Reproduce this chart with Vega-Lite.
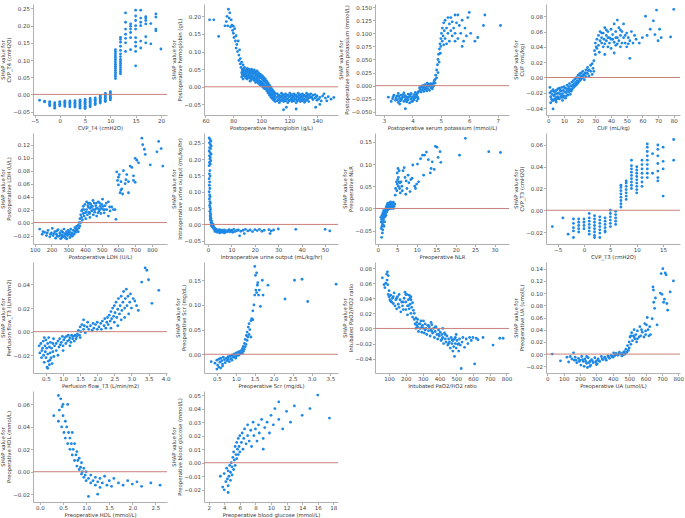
{
"$schema":"https://vega.github.io/schema/vega-lite/v6.json",
"background":"white",
"padding":{"left":0,"top":4,"right":0,"bottom":0},
"config":{"view":{"stroke":null},"font":"DejaVu Sans",
"axis":{"grid":false,"domainColor":"#b0b0b0","tickColor":"#b0b0b0","tickSize":2.5,"labelFontSize":5.5,"labelColor":"#444","labelPadding":1,"labelOverlap":false,"labelFlush":false,"titleFontSize":5.3,"titleFontWeight":"normal","titleColor":"#333","titlePadding":1.5,"titleLineHeight":6},
"circle":{"size":8,"color":"#1E88E5","opacity":1},
"rule":{"color":"#c9807b","strokeWidth":1}},
"columns":4,
"bounds":"flush",
"spacing":{"row":18,"column":37},
"datasets":{
"p1":[{"x":-4,"y":-0.017},{"x":-3,"y":-0.02},{"x":-3,"y":-0.022},{"x":-2,"y":-0.021},{"x":-2,"y":-0.025},{"x":-2,"y":-0.029},{"x":-2,"y":-0.033},{"x":-1,"y":-0.024},{"x":-1,"y":-0.028},{"x":-1,"y":-0.032},{"x":-1,"y":-0.037},{"x":-1,"y":-0.04},{"x":0,"y":-0.021},{"x":0,"y":-0.025},{"x":0,"y":-0.029},{"x":0,"y":-0.033},{"x":1,"y":-0.019},{"x":1,"y":-0.023},{"x":1,"y":-0.027},{"x":1,"y":-0.031},{"x":1,"y":-0.035},{"x":2,"y":-0.019},{"x":2,"y":-0.023},{"x":2,"y":-0.027},{"x":2,"y":-0.031},{"x":2,"y":-0.036},{"x":3,"y":-0.018},{"x":3,"y":-0.022},{"x":3,"y":-0.026},{"x":3,"y":-0.03},{"x":3,"y":-0.034},{"x":3,"y":-0.037},{"x":4,"y":-0.016},{"x":4,"y":-0.02},{"x":4,"y":-0.024},{"x":4,"y":-0.028},{"x":4,"y":-0.032},{"x":4,"y":-0.036},{"x":4,"y":-0.04},{"x":5,"y":-0.015},{"x":5,"y":-0.019},{"x":5,"y":-0.023},{"x":5,"y":-0.027},{"x":5,"y":-0.031},{"x":5,"y":-0.035},{"x":5,"y":-0.039},{"x":5,"y":-0.041},{"x":6,"y":-0.012},{"x":6,"y":-0.016},{"x":6,"y":-0.02},{"x":6,"y":-0.024},{"x":6,"y":-0.028},{"x":6,"y":-0.032},{"x":6,"y":-0.036},{"x":7,"y":-0.01},{"x":7,"y":-0.014},{"x":7,"y":-0.018},{"x":7,"y":-0.022},{"x":7,"y":-0.026},{"x":7,"y":-0.03},{"x":8,"y":-0.004},{"x":8,"y":-0.008},{"x":8,"y":-0.012},{"x":8,"y":-0.016},{"x":8,"y":-0.02},{"x":8,"y":-0.025},{"x":9,"y":0.003},{"x":9,"y":-0.001},{"x":9,"y":-0.005},{"x":9,"y":-0.009},{"x":9,"y":-0.013},{"x":9,"y":-0.017},{"x":9,"y":-0.021},{"x":10,"y":0.008},{"x":10,"y":0.004},{"x":10,"y":0.0},{"x":10,"y":-0.004},{"x":10,"y":-0.008},{"x":10,"y":-0.012},{"x":10,"y":-0.016},{"x":11,"y":0.046},{"x":11,"y":0.052},{"x":11,"y":0.058},{"x":11,"y":0.064},{"x":11,"y":0.07},{"x":11,"y":0.076},{"x":11,"y":0.082},{"x":11,"y":0.088},{"x":11,"y":0.094},{"x":11,"y":0.1},{"x":11,"y":0.106},{"x":11,"y":0.112},{"x":11,"y":0.118},{"x":11,"y":0.124},{"x":11,"y":0.13},{"x":12,"y":0.06},{"x":12,"y":0.066},{"x":12,"y":0.072},{"x":12,"y":0.078},{"x":12,"y":0.084},{"x":12,"y":0.09},{"x":12,"y":0.096},{"x":12,"y":0.102},{"x":12,"y":0.11},{"x":12,"y":0.118},{"x":12,"y":0.128},{"x":12,"y":0.14},{"x":12,"y":0.152},{"x":12,"y":0.16},{"x":12,"y":0.166},{"x":13,"y":0.125},{"x":13,"y":0.15},{"x":13,"y":0.163},{"x":13,"y":0.175},{"x":13,"y":0.19},{"x":13,"y":0.21},{"x":13,"y":0.237},{"x":14,"y":0.13},{"x":14,"y":0.165},{"x":14,"y":0.18},{"x":14,"y":0.19},{"x":14,"y":0.198},{"x":14,"y":0.205},{"x":15,"y":0.083},{"x":15,"y":0.125},{"x":15,"y":0.14},{"x":15,"y":0.152},{"x":15,"y":0.165},{"x":15,"y":0.19},{"x":15,"y":0.2},{"x":15,"y":0.215},{"x":15,"y":0.228},{"x":15,"y":0.245},{"x":16,"y":0.135},{"x":16,"y":0.155},{"x":16,"y":0.2},{"x":16,"y":0.21},{"x":16,"y":0.222},{"x":16,"y":0.245},{"x":17,"y":0.15},{"x":17,"y":0.168},{"x":17,"y":0.205},{"x":17,"y":0.215},{"x":17,"y":0.222},{"x":17,"y":0.226},{"x":18,"y":0.147},{"x":18,"y":0.206},{"x":19,"y":0.185},{"x":19,"y":0.19},{"x":19,"y":0.225},{"x":19,"y":0.234},{"x":20,"y":0.132}],
"p2":[{"x":63,"y":0.19},{"x":66,"y":0.19},{"x":69.5,"y":0.143},{"x":74,"y":0.173},{"x":75,"y":0.185},{"x":75.5,"y":0.2},{"x":76,"y":0.173},{"x":76.5,"y":0.22},{"x":77,"y":0.195},{"x":77.5,"y":0.21},{"x":78,"y":0.17},{"x":78.5,"y":0.19},{"x":79,"y":0.175},{"x":79.5,"y":0.16},{"x":80,"y":0.172},{"x":80,"y":0.152},{"x":80.5,"y":0.14},{"x":81,"y":0.165},{"x":81.5,"y":0.13},{"x":82,"y":0.145},{"x":82,"y":0.11},{"x":82.5,"y":0.12},{"x":83,"y":0.1},{"x":83.5,"y":0.13},{"x":84,"y":0.09},{"x":84,"y":0.075},{"x":84.5,"y":0.105},{"x":85,"y":0.065},{"x":85,"y":0.08},{"x":85.5,"y":0.055},{"x":86,"y":0.07},{"x":86.5,"y":0.05},{"x":87,"y":0.062},{"x":86,"y":0.04},{"x":86,"y":0.028},{"x":87,"y":0.045},{"x":87,"y":0.033},{"x":87,"y":0.022},{"x":88,"y":0.055},{"x":88,"y":0.04},{"x":88,"y":0.03},{"x":89,"y":0.048},{"x":89,"y":0.036},{"x":89,"y":0.025},{"x":90,"y":0.052},{"x":90,"y":0.042},{"x":90,"y":0.032},{"x":90,"y":0.022},{"x":91,"y":0.05},{"x":91,"y":0.038},{"x":91,"y":0.028},{"x":92,"y":0.046},{"x":92,"y":0.034},{"x":92,"y":0.024},{"x":92,"y":0.016},{"x":93,"y":0.05},{"x":93,"y":0.04},{"x":93,"y":0.03},{"x":93,"y":0.02},{"x":94,"y":0.044},{"x":94,"y":0.035},{"x":94,"y":0.025},{"x":95,"y":0.048},{"x":95,"y":0.038},{"x":95,"y":0.028},{"x":95,"y":0.018},{"x":96,"y":0.042},{"x":96,"y":0.032},{"x":96,"y":0.022},{"x":96,"y":0.012},{"x":97,"y":0.045},{"x":97,"y":0.035},{"x":97,"y":0.025},{"x":97,"y":0.015},{"x":98,"y":0.04},{"x":98,"y":0.03},{"x":98,"y":0.02},{"x":98,"y":0.01},{"x":99,"y":0.036},{"x":99,"y":0.026},{"x":99,"y":0.016},{"x":99,"y":0.006},{"x":100,"y":0.034},{"x":100,"y":0.024},{"x":100,"y":0.014},{"x":100,"y":0.004},{"x":101,"y":0.03},{"x":101,"y":0.02},{"x":101,"y":0.01},{"x":101,"y":0.0},{"x":102,"y":0.026},{"x":102,"y":0.016},{"x":102,"y":0.006},{"x":102,"y":-0.004},{"x":103,"y":0.022},{"x":103,"y":0.012},{"x":103,"y":0.002},{"x":103,"y":-0.006},{"x":104,"y":0.015},{"x":104,"y":0.006},{"x":104,"y":-0.004},{"x":104,"y":-0.012},{"x":105,"y":0.01},{"x":105,"y":0.0},{"x":105,"y":-0.01},{"x":105,"y":-0.018},{"x":106,"y":0.004},{"x":106,"y":-0.006},{"x":106,"y":-0.016},{"x":106,"y":-0.024},{"x":107,"y":-0.002},{"x":107,"y":-0.012},{"x":107,"y":-0.022},{"x":107,"y":-0.03},{"x":108,"y":-0.008},{"x":108,"y":-0.018},{"x":108,"y":-0.026},{"x":108,"y":-0.034},{"x":109,"y":-0.014},{"x":109,"y":-0.022},{"x":109,"y":-0.03},{"x":109,"y":-0.038},{"x":110,"y":-0.018},{"x":110,"y":-0.026},{"x":110,"y":-0.034},{"x":110,"y":-0.042},{"x":111.5,"y":-0.02},{"x":111.5,"y":-0.03},{"x":111.5,"y":-0.04},{"x":113,"y":-0.024},{"x":113,"y":-0.034},{"x":113,"y":-0.045},{"x":114.5,"y":-0.018},{"x":114.5,"y":-0.028},{"x":114.5,"y":-0.038},{"x":116,"y":-0.022},{"x":116,"y":-0.032},{"x":116,"y":-0.042},{"x":117.5,"y":-0.02},{"x":117.5,"y":-0.03},{"x":117.5,"y":-0.04},{"x":119,"y":-0.024},{"x":119,"y":-0.034},{"x":119,"y":-0.045},{"x":120.5,"y":-0.018},{"x":120.5,"y":-0.028},{"x":120.5,"y":-0.038},{"x":122,"y":-0.022},{"x":122,"y":-0.032},{"x":122,"y":-0.042},{"x":123.5,"y":-0.02},{"x":123.5,"y":-0.03},{"x":123.5,"y":-0.04},{"x":125,"y":-0.024},{"x":125,"y":-0.034},{"x":125,"y":-0.045},{"x":126.5,"y":-0.018},{"x":126.5,"y":-0.028},{"x":126.5,"y":-0.038},{"x":128,"y":-0.022},{"x":128,"y":-0.032},{"x":128,"y":-0.042},{"x":129.5,"y":-0.02},{"x":129.5,"y":-0.03},{"x":129.5,"y":-0.04},{"x":131,"y":-0.024},{"x":131,"y":-0.034},{"x":131,"y":-0.044},{"x":132.5,"y":-0.018},{"x":132.5,"y":-0.028},{"x":132.5,"y":-0.038},{"x":134,"y":-0.022},{"x":134,"y":-0.032},{"x":134,"y":-0.042},{"x":135.5,"y":-0.02},{"x":135.5,"y":-0.03},{"x":137,"y":-0.024},{"x":137,"y":-0.036},{"x":138.5,"y":-0.022},{"x":138.5,"y":-0.032},{"x":140,"y":-0.026},{"x":140,"y":-0.038},{"x":142,"y":-0.03},{"x":142,"y":-0.05},{"x":144,"y":-0.026},{"x":145,"y":-0.02},{"x":146,"y":-0.032},{"x":147,"y":-0.04},{"x":148,"y":-0.028},{"x":150,"y":-0.035},{"x":152,"y":-0.03},{"x":116,"y":-0.065},{"x":118,"y":-0.058},{"x":125,"y":-0.063},{"x":139,"y":-0.058},{"x":86.5,"y":0.035},{"x":86.5,"y":0.045},{"x":87.5,"y":0.038},{"x":87.5,"y":0.05},{"x":88.5,"y":0.034},{"x":88.5,"y":0.046},{"x":89.5,"y":0.03},{"x":89.5,"y":0.042},{"x":90.5,"y":0.027},{"x":90.5,"y":0.047},{"x":91.5,"y":0.033},{"x":91.5,"y":0.043},{"x":92.5,"y":0.029},{"x":92.5,"y":0.039},{"x":93.5,"y":0.025},{"x":93.5,"y":0.045},{"x":94.5,"y":0.022},{"x":94.5,"y":0.04},{"x":95.5,"y":0.023},{"x":95.5,"y":0.043},{"x":96.5,"y":0.017},{"x":96.5,"y":0.037},{"x":97.5,"y":0.02},{"x":97.5,"y":0.03},{"x":98.5,"y":0.015},{"x":98.5,"y":0.035},{"x":99.5,"y":0.011},{"x":99.5,"y":0.031},{"x":100.5,"y":0.009},{"x":100.5,"y":0.027},{"x":101.5,"y":0.005},{"x":101.5,"y":0.024},{"x":102.5,"y":0.001},{"x":102.5,"y":0.02},{"x":103.5,"y":-0.004},{"x":103.5,"y":0.016},{"x":104.5,"y":-0.008},{"x":104.5,"y":0.008},{"x":105.5,"y":-0.014},{"x":105.5,"y":0.004},{"x":106.5,"y":-0.02},{"x":106.5,"y":-0.002},{"x":107.5,"y":-0.026},{"x":107.5,"y":-0.008},{"x":108.5,"y":-0.03},{"x":108.5,"y":-0.014},{"x":109.5,"y":-0.034},{"x":109.5,"y":-0.02},{"x":112.25,"y":-0.026},{"x":112.25,"y":-0.037},{"x":113.75,"y":-0.029},{"x":113.75,"y":-0.04},{"x":115.25,"y":-0.024},{"x":115.25,"y":-0.034},{"x":116.75,"y":-0.027},{"x":116.75,"y":-0.038},{"x":118.25,"y":-0.025},{"x":118.25,"y":-0.035},{"x":119.75,"y":-0.028},{"x":119.75,"y":-0.04},{"x":121.25,"y":-0.024},{"x":121.25,"y":-0.036},{"x":122.75,"y":-0.027},{"x":122.75,"y":-0.037},{"x":124.25,"y":-0.025},{"x":124.25,"y":-0.035},{"x":125.75,"y":-0.029},{"x":125.75,"y":-0.04},{"x":127.25,"y":-0.024},{"x":127.25,"y":-0.034},{"x":128.75,"y":-0.027},{"x":128.75,"y":-0.037},{"x":130.25,"y":-0.025},{"x":130.25,"y":-0.036},{"x":131.75,"y":-0.028},{"x":131.75,"y":-0.039},{"x":133.25,"y":-0.024},{"x":133.25,"y":-0.034},{"x":134.75,"y":-0.027},{"x":136.25,"y":-0.03},{"x":139,"y":-0.03},{"x":141,"y":-0.035},{"x":143,"y":-0.04}],
"p3":[{"x":3.15,"y":-0.022},{"x":3.25,"y":-0.03},{"x":3.3,"y":-0.025},{"x":3.35,"y":-0.018},{"x":3.4,"y":-0.028},{"x":3.45,"y":-0.02},{"x":3.5,"y":-0.032},{"x":3.5,"y":-0.015},{"x":3.55,"y":-0.024},{"x":3.55,"y":-0.035},{"x":3.6,"y":-0.028},{"x":3.6,"y":-0.018},{"x":3.65,"y":-0.022},{"x":3.7,"y":-0.03},{"x":3.7,"y":-0.014},{"x":3.75,"y":-0.026},{"x":3.75,"y":-0.019},{"x":3.75,"y":-0.044},{"x":3.8,"y":-0.031},{"x":3.8,"y":-0.022},{"x":3.85,"y":-0.016},{"x":3.85,"y":-0.027},{"x":3.9,"y":-0.02},{"x":3.9,"y":-0.033},{"x":3.95,"y":-0.025},{"x":3.95,"y":-0.015},{"x":4.0,"y":-0.03},{"x":4.0,"y":-0.021},{"x":4.05,"y":-0.017},{"x":4.05,"y":-0.027},{"x":4.1,"y":-0.023},{"x":4.1,"y":-0.013},{"x":4.15,"y":-0.029},{"x":4.15,"y":-0.019},{"x":4.2,"y":-0.025},{"x":4.2,"y":-0.012},{"x":4.25,"y":-0.01},{"x":4.25,"y":-0.004},{"x":4.3,"y":-0.012},{"x":4.3,"y":-0.002},{"x":4.35,"y":-0.008},{"x":4.35,"y":0.0},{"x":4.4,"y":-0.011},{"x":4.4,"y":-0.003},{"x":4.45,"y":-0.007},{"x":4.45,"y":0.002},{"x":4.5,"y":-0.01},{"x":4.5,"y":-0.002},{"x":4.55,"y":-0.006},{"x":4.55,"y":0.003},{"x":4.6,"y":-0.009},{"x":4.6,"y":0.0},{"x":4.65,"y":-0.004},{"x":4.65,"y":0.004},{"x":4.7,"y":-0.006},{"x":4.7,"y":0.003},{"x":4.75,"y":0.0},{"x":4.75,"y":0.006},{"x":4.8,"y":0.005},{"x":4.8,"y":0.012},{"x":4.82,"y":0.02},{"x":4.85,"y":0.015},{"x":4.85,"y":0.03},{"x":4.88,"y":0.04},{"x":4.9,"y":0.025},{"x":4.9,"y":0.05},{"x":4.92,"y":0.06},{"x":4.94,"y":0.045},{"x":4.95,"y":0.07},{"x":4.97,"y":0.08},{"x":4.98,"y":0.062},{"x":5.0,"y":0.09},{"x":5.0,"y":0.075},{"x":5.02,"y":0.1},{"x":5.05,"y":0.085},{"x":5.05,"y":0.11},{"x":5.08,"y":0.095},{"x":5.1,"y":0.12},{"x":5.1,"y":0.078},{"x":5.12,"y":0.105},{"x":5.15,"y":0.09},{"x":5.15,"y":0.125},{"x":5.2,"y":0.11},{"x":5.2,"y":0.08},{"x":5.25,"y":0.1},{"x":5.25,"y":0.13},{"x":5.3,"y":0.085},{"x":5.3,"y":0.118},{"x":5.35,"y":0.105},{"x":5.35,"y":0.13},{"x":5.4,"y":0.095},{"x":5.4,"y":0.122},{"x":5.45,"y":0.11},{"x":5.5,"y":0.135},{"x":5.5,"y":0.1},{"x":5.5,"y":0.085},{"x":5.55,"y":0.12},{"x":5.6,"y":0.135},{"x":5.6,"y":0.09},{"x":5.65,"y":0.115},{"x":5.7,"y":0.1},{"x":5.75,"y":0.125},{"x":5.75,"y":0.075},{"x":5.8,"y":0.085},{"x":5.85,"y":0.11},{"x":5.9,"y":0.095},{"x":5.95,"y":0.13},{"x":6.0,"y":0.14},{"x":6.05,"y":0.1},{"x":6.2,"y":0.085},{"x":6.3,"y":0.092},{"x":6.5,"y":0.115},{"x":6.55,"y":0.135},{"x":7.1,"y":0.115},{"x":3.32,"y":-0.021},{"x":3.42,"y":-0.024},{"x":3.52,"y":-0.02},{"x":3.62,"y":-0.025},{"x":3.72,"y":-0.021},{"x":3.82,"y":-0.026},{"x":3.92,"y":-0.017},{"x":4.02,"y":-0.024},{"x":4.12,"y":-0.018},{"x":4.18,"y":-0.022},{"x":3.47,"y":-0.027},{"x":3.57,"y":-0.029},{"x":3.67,"y":-0.017},{"x":3.77,"y":-0.028},{"x":3.87,"y":-0.022},{"x":3.97,"y":-0.03},{"x":4.07,"y":-0.022},{"x":4.17,"y":-0.015},{"x":4.27,"y":-0.006},{"x":4.37,"y":-0.004},{"x":4.47,"y":-0.005},{"x":4.57,"y":-0.001},{"x":4.67,"y":0.0},{"x":4.72,"y":-0.002},{"x":4.42,"y":0.001},{"x":4.52,"y":0.005},{"x":4.62,"y":0.003},{"x":4.77,"y":0.01}],
"p4":[{"x":1,"y":-0.013},{"x":1,"y":-0.02},{"x":1.5,"y":-0.025},{"x":1.5,"y":-0.033},{"x":2,"y":-0.018},{"x":2,"y":-0.028},{"x":2.5,"y":-0.022},{"x":3,"y":-0.016},{"x":3,"y":-0.03},{"x":3,"y":-0.041},{"x":3.5,"y":-0.024},{"x":4,"y":-0.019},{"x":4,"y":-0.028},{"x":4.5,"y":-0.022},{"x":5,"y":-0.017},{"x":5,"y":-0.026},{"x":5,"y":-0.032},{"x":5.5,"y":-0.021},{"x":6,"y":-0.015},{"x":6,"y":-0.025},{"x":6.5,"y":-0.02},{"x":7,"y":-0.014},{"x":7,"y":-0.028},{"x":7.5,"y":-0.022},{"x":8,"y":-0.018},{"x":8,"y":-0.026},{"x":8.5,"y":-0.013},{"x":9,"y":-0.021},{"x":9,"y":-0.03},{"x":9.5,"y":-0.017},{"x":10,"y":-0.012},{"x":10,"y":-0.024},{"x":10.5,"y":-0.019},{"x":11,"y":-0.014},{"x":11,"y":-0.027},{"x":11.5,"y":-0.02},{"x":12,"y":-0.01},{"x":12,"y":-0.017},{"x":12.5,"y":-0.023},{"x":13,"y":-0.012},{"x":13,"y":-0.019},{"x":13.5,"y":-0.008},{"x":14,"y":-0.015},{"x":14,"y":-0.022},{"x":14.5,"y":-0.011},{"x":15,"y":-0.006},{"x":15,"y":-0.016},{"x":15.5,"y":-0.01},{"x":16,"y":-0.004},{"x":16,"y":-0.013},{"x":16.5,"y":-0.008},{"x":17,"y":-0.002},{"x":17,"y":-0.011},{"x":17.5,"y":-0.006},{"x":18,"y":0.0},{"x":18,"y":-0.009},{"x":18.5,"y":-0.004},{"x":19,"y":0.003},{"x":19,"y":-0.007},{"x":19.5,"y":-0.001},{"x":20,"y":0.005},{"x":20,"y":-0.004},{"x":20.5,"y":0.002},{"x":21,"y":-0.002},{"x":21,"y":0.006},{"x":22,"y":0.0},{"x":22,"y":0.008},{"x":23,"y":0.003},{"x":23,"y":-0.003},{"x":24,"y":0.01},{"x":24,"y":0.001},{"x":25,"y":0.005},{"x":25,"y":0.013},{"x":26,"y":0.002},{"x":26,"y":0.01},{"x":27,"y":0.008},{"x":27,"y":0.016},{"x":28,"y":0.004},{"x":28,"y":0.018},{"x":28.5,"y":0.012},{"x":29,"y":0.022},{"x":29,"y":0.008},{"x":29.5,"y":0.035},{"x":30,"y":0.045},{"x":30,"y":0.03},{"x":30.5,"y":0.04},{"x":31,"y":0.05},{"x":31,"y":0.038},{"x":32,"y":0.055},{"x":32,"y":0.042},{"x":32.5,"y":0.033},{"x":33,"y":0.048},{"x":33,"y":0.06},{"x":34,"y":0.045},{"x":34,"y":0.052},{"x":35,"y":0.04},{"x":35,"y":0.058},{"x":35.5,"y":0.05},{"x":36,"y":0.065},{"x":36,"y":0.044},{"x":36,"y":0.03},{"x":37,"y":0.055},{"x":37,"y":0.048},{"x":38,"y":0.04},{"x":38,"y":0.06},{"x":39,"y":0.052},{"x":39,"y":0.045},{"x":40,"y":0.063},{"x":40,"y":0.038},{"x":41,"y":0.05},{"x":41,"y":0.056},{"x":42,"y":0.046},{"x":42,"y":0.07},{"x":42,"y":0.032},{"x":43,"y":0.06},{"x":43,"y":0.042},{"x":44,"y":0.075},{"x":44,"y":0.052},{"x":45,"y":0.048},{"x":45,"y":0.065},{"x":46,"y":0.055},{"x":46,"y":0.04},{"x":47,"y":0.06},{"x":47,"y":0.045},{"x":48,"y":0.052},{"x":48,"y":0.07},{"x":49,"y":0.045},{"x":50,"y":0.058},{"x":50,"y":0.04},{"x":51,"y":0.052},{"x":52,"y":0.025},{"x":52,"y":0.048},{"x":53,"y":0.06},{"x":54,"y":0.045},{"x":55,"y":0.055},{"x":56,"y":0.05},{"x":58,"y":0.045},{"x":60,"y":0.052},{"x":62,"y":0.08},{"x":63,"y":0.055},{"x":65,"y":0.063},{"x":67,"y":0.074},{"x":68,"y":0.056},{"x":69,"y":0.088},{"x":70,"y":0.048},{"x":71,"y":0.063},{"x":72,"y":0.052},{"x":78,"y":0.053},{"x":80,"y":0.089},{"x":2.5,"y":-0.03},{"x":3.5,"y":-0.018},{"x":4.5,"y":-0.03},{"x":5.5,"y":-0.028},{"x":6.5,"y":-0.026},{"x":7.5,"y":-0.016},{"x":8.5,"y":-0.024},{"x":9.5,"y":-0.026},{"x":10.5,"y":-0.014},{"x":11.5,"y":-0.024},{"x":12.5,"y":-0.015},{"x":13.5,"y":-0.016},{"x":14.5,"y":-0.018},{"x":15.5,"y":-0.014},{"x":16.5,"y":-0.012},{"x":17.5,"y":-0.01},{"x":18.5,"y":-0.008},{"x":19.5,"y":-0.005},{"x":20.5,"y":-0.003},{"x":21.5,"y":0.002},{"x":22.5,"y":0.004},{"x":23.5,"y":0.006},{"x":24.5,"y":0.006},{"x":25.5,"y":0.009},{"x":34,"y":0.058},{"x":37,"y":0.062},{"x":40,"y":0.05},{"x":43,"y":0.052},{"x":46,"y":0.062},{"x":49,"y":0.055},{"x":51,"y":0.044},{"x":38,"y":0.052},{"x":44,"y":0.044}],
"p5":[{"x":130,"y":-0.01},{"x":145,"y":-0.018},{"x":160,"y":-0.015},{"x":170,"y":-0.02},{"x":180,"y":-0.012},{"x":190,"y":-0.022},{"x":200,"y":-0.016},{"x":205,"y":-0.009},{"x":210,"y":-0.02},{"x":220,"y":-0.014},{"x":225,"y":-0.024},{"x":230,"y":-0.018},{"x":240,"y":-0.011},{"x":245,"y":-0.021},{"x":250,"y":-0.016},{"x":255,"y":-0.025},{"x":260,"y":-0.013},{"x":265,"y":-0.019},{"x":270,"y":-0.022},{"x":275,"y":-0.01},{"x":280,"y":-0.017},{"x":285,"y":-0.024},{"x":290,"y":-0.014},{"x":295,"y":-0.02},{"x":300,"y":-0.012},{"x":305,"y":-0.018},{"x":310,"y":-0.023},{"x":315,"y":-0.01},{"x":320,"y":-0.016},{"x":325,"y":-0.021},{"x":330,"y":-0.012},{"x":335,"y":-0.018},{"x":340,"y":-0.008},{"x":345,"y":-0.015},{"x":350,"y":-0.006},{"x":350,"y":-0.012},{"x":355,"y":-0.01},{"x":360,"y":-0.004},{"x":360,"y":-0.014},{"x":365,"y":-0.008},{"x":365,"y":0.0},{"x":370,"y":-0.005},{"x":370,"y":0.006},{"x":375,"y":0.0},{"x":375,"y":0.012},{"x":380,"y":0.008},{"x":380,"y":0.018},{"x":385,"y":0.004},{"x":385,"y":0.02},{"x":390,"y":0.014},{"x":390,"y":0.025},{"x":395,"y":0.01},{"x":395,"y":0.02},{"x":400,"y":0.015},{"x":400,"y":0.028},{"x":405,"y":0.006},{"x":410,"y":0.02},{"x":410,"y":0.032},{"x":415,"y":0.012},{"x":420,"y":0.024},{"x":420,"y":0.03},{"x":425,"y":0.016},{"x":430,"y":0.022},{"x":430,"y":0.008},{"x":435,"y":0.028},{"x":440,"y":0.018},{"x":445,"y":0.025},{"x":450,"y":0.012},{"x":455,"y":0.03},{"x":460,"y":0.02},{"x":465,"y":0.026},{"x":470,"y":0.01},{"x":475,"y":0.022},{"x":480,"y":0.032},{"x":485,"y":0.018},{"x":490,"y":0.025},{"x":495,"y":0.014},{"x":500,"y":0.028},{"x":505,"y":0.036},{"x":510,"y":0.02},{"x":515,"y":0.015},{"x":520,"y":0.026},{"x":530,"y":0.02},{"x":540,"y":0.032},{"x":540,"y":0.01},{"x":550,"y":0.018},{"x":560,"y":0.024},{"x":570,"y":0.02},{"x":580,"y":0.02},{"x":585,"y":0.005},{"x":590,"y":0.078},{"x":595,"y":0.065},{"x":600,"y":0.07},{"x":600,"y":0.058},{"x":605,"y":0.074},{"x":610,"y":0.046},{"x":615,"y":0.05},{"x":615,"y":0.063},{"x":620,"y":0.052},{"x":625,"y":0.044},{"x":630,"y":0.08},{"x":640,"y":0.06},{"x":645,"y":0.066},{"x":650,"y":0.074},{"x":660,"y":0.063},{"x":660,"y":0.046},{"x":670,"y":0.087},{"x":680,"y":0.085},{"x":690,"y":0.072},{"x":690,"y":0.065},{"x":700,"y":0.099},{"x":700,"y":0.062},{"x":710,"y":0.096},{"x":720,"y":0.092},{"x":740,"y":0.13},{"x":745,"y":0.12},{"x":755,"y":0.113},{"x":760,"y":0.105},{"x":790,"y":0.089},{"x":830,"y":0.109},{"x":840,"y":0.125},{"x":855,"y":0.114},{"x":865,"y":0.087},{"x":150,"y":-0.014},{"x":175,"y":-0.016},{"x":195,"y":-0.018},{"x":215,"y":-0.017},{"x":235,"y":-0.021},{"x":255,"y":-0.019},{"x":268,"y":-0.015},{"x":278,"y":-0.021},{"x":288,"y":-0.018},{"x":298,"y":-0.016},{"x":308,"y":-0.014},{"x":318,"y":-0.019},{"x":328,"y":-0.017},{"x":338,"y":-0.013},{"x":348,"y":-0.01},{"x":292,"y":-0.025},{"x":262,"y":-0.023},{"x":232,"y":-0.013},{"x":408,"y":0.016},{"x":418,"y":0.026},{"x":428,"y":0.014},{"x":438,"y":0.024},{"x":448,"y":0.02},{"x":458,"y":0.016},{"x":468,"y":0.022},{"x":478,"y":0.015},{"x":488,"y":0.02},{"x":498,"y":0.022},{"x":508,"y":0.025},{"x":518,"y":0.02},{"x":528,"y":0.03},{"x":548,"y":0.024},{"x":428,"y":0.03},{"x":448,"y":0.034},{"x":468,"y":0.03},{"x":488,"y":0.03}],
"p6":[{"x":0.5,"y":0.265},{"x":0.9,"y":0.26},{"x":1.2,"y":0.255},{"x":0.6,"y":0.25},{"x":1.0,"y":0.245},{"x":1.4,"y":0.24},{"x":0.7,"y":0.235},{"x":1.1,"y":0.232},{"x":0.5,"y":0.225},{"x":0.9,"y":0.22},{"x":1.3,"y":0.215},{"x":0.6,"y":0.21},{"x":1.0,"y":0.205},{"x":0.8,"y":0.2},{"x":1.2,"y":0.195},{"x":0.6,"y":0.19},{"x":1.0,"y":0.185},{"x":0.5,"y":0.18},{"x":0.8,"y":0.165},{"x":0.6,"y":0.155},{"x":0.9,"y":0.148},{"x":0.5,"y":0.14},{"x":0.7,"y":0.13},{"x":0.6,"y":0.12},{"x":0.8,"y":0.11},{"x":0.5,"y":0.1},{"x":0.7,"y":0.09},{"x":0.9,"y":0.085},{"x":0.6,"y":0.078},{"x":0.8,"y":0.07},{"x":1.0,"y":0.065},{"x":0.7,"y":0.058},{"x":0.9,"y":0.052},{"x":1.1,"y":0.046},{"x":0.8,"y":0.04},{"x":1.0,"y":0.035},{"x":1.2,"y":0.03},{"x":0.9,"y":0.026},{"x":1.1,"y":0.022},{"x":1.3,"y":0.018},{"x":1.0,"y":0.015},{"x":1.2,"y":0.012},{"x":1.5,"y":0.01},{"x":1.3,"y":0.006},{"x":1.6,"y":0.004},{"x":1.8,"y":0.002},{"x":1.4,"y":0.0},{"x":2.0,"y":-0.002},{"x":2.2,"y":0.0},{"x":1.5,"y":-0.004},{"x":1.7,"y":-0.005},{"x":2.3,"y":-0.006},{"x":2.0,"y":-0.009},{"x":2.6,"y":-0.01},{"x":3.0,"y":-0.012},{"x":2.5,"y":-0.014},{"x":3.5,"y":-0.015},{"x":4.0,"y":-0.017},{"x":3.2,"y":-0.019},{"x":3,"y":-0.022},{"x":4,"y":-0.024},{"x":4.5,"y":-0.018},{"x":5,"y":-0.016},{"x":5,"y":-0.026},{"x":5.5,"y":-0.02},{"x":6,"y":-0.018},{"x":6,"y":-0.024},{"x":6.5,"y":-0.022},{"x":7,"y":-0.017},{"x":7,"y":-0.026},{"x":7.5,"y":-0.02},{"x":8,"y":-0.023},{"x":8.5,"y":-0.019},{"x":9,"y":-0.016},{"x":9.5,"y":-0.021},{"x":10,"y":-0.018},{"x":10.5,"y":-0.024},{"x":11,"y":-0.015},{"x":12,"y":-0.02},{"x":13,"y":-0.017},{"x":13.5,"y":-0.035},{"x":14,"y":-0.021},{"x":15,"y":-0.018},{"x":15.5,"y":-0.028},{"x":16,"y":-0.015},{"x":17,"y":-0.02},{"x":18,"y":-0.017},{"x":19,"y":-0.022},{"x":20,"y":-0.016},{"x":21,"y":-0.019},{"x":22,"y":-0.015},{"x":23,"y":-0.021},{"x":24,"y":-0.018},{"x":26,"y":-0.016},{"x":26.5,"y":-0.028},{"x":27,"y":-0.02},{"x":28,"y":-0.017},{"x":30,"y":-0.014},{"x":37.5,"y":-0.015},{"x":50,"y":-0.015},{"x":52,"y":-0.02},{"x":4.2,"y":-0.02},{"x":5.2,"y":-0.022},{"x":6.2,"y":-0.02},{"x":7.2,"y":-0.022},{"x":8.2,"y":-0.02},{"x":9.2,"y":-0.023},{"x":10.2,"y":-0.02},{"x":11.5,"y":-0.022},{"x":12.5,"y":-0.018},{"x":2.8,"y":-0.016},{"x":3.8,"y":-0.02},{"x":1.8,"y":-0.003},{"x":2.4,"y":-0.008}],
"p7":[{"x":0.8,"y":-0.02},{"x":0.9,"y":-0.03},{"x":0.9,"y":-0.045},{"x":1.0,"y":-0.065},{"x":1.0,"y":-0.025},{"x":1.1,"y":-0.04},{"x":1.1,"y":-0.015},{"x":1.2,"y":-0.035},{"x":1.2,"y":-0.022},{"x":1.2,"y":-0.055},{"x":1.3,"y":-0.048},{"x":1.3,"y":-0.01},{"x":1.4,"y":-0.03},{"x":1.4,"y":-0.018},{"x":1.5,"y":-0.025},{"x":1.5,"y":-0.005},{"x":1.5,"y":-0.038},{"x":1.6,"y":-0.04},{"x":1.6,"y":-0.014},{"x":1.7,"y":-0.02},{"x":1.7,"y":-0.008},{"x":1.8,"y":-0.03},{"x":1.8,"y":-0.012},{"x":1.9,"y":-0.005},{"x":1.9,"y":-0.018},{"x":2.0,"y":-0.01},{"x":2.0,"y":-0.001},{"x":2.1,"y":-0.015},{"x":2.2,"y":-0.004},{"x":2.2,"y":0.004},{"x":2.3,"y":-0.008},{"x":2.4,"y":0.0},{"x":2.4,"y":0.008},{"x":2.5,"y":-0.004},{"x":2.6,"y":0.005},{"x":2.6,"y":0.012},{"x":2.7,"y":-0.002},{"x":2.8,"y":0.008},{"x":2.8,"y":0.002},{"x":2.9,"y":0.012},{"x":3.0,"y":0.0},{"x":3.0,"y":0.006},{"x":3.1,"y":0.01},{"x":3.2,"y":0.003},{"x":3.3,"y":0.015},{"x":3.3,"y":0.006},{"x":3.4,"y":0.0},{"x":3.5,"y":0.01},{"x":3.6,"y":0.004},{"x":3.7,"y":0.012},{"x":3.8,"y":0.002},{"x":3.9,"y":0.007},{"x":4.0,"y":0.014},{"x":4.0,"y":0.0},{"x":4.2,"y":0.005},{"x":4.4,"y":0.01},{"x":4.5,"y":0.03},{"x":4.6,"y":0.045},{"x":4.8,"y":0.06},{"x":4.9,"y":0.04},{"x":5.0,"y":0.08},{"x":5.0,"y":0.055},{"x":5.1,"y":0.065},{"x":5.2,"y":0.09},{"x":5.3,"y":0.05},{"x":5.3,"y":0.07},{"x":5.4,"y":0.06},{"x":5.5,"y":0.085},{"x":5.6,"y":0.045},{"x":5.7,"y":0.058},{"x":5.8,"y":0.035},{"x":6.0,"y":0.06},{"x":6.2,"y":0.05},{"x":6.3,"y":0.04},{"x":6.5,"y":0.085},{"x":6.8,"y":0.092},{"x":7.0,"y":0.07},{"x":7.2,"y":0.032},{"x":7.3,"y":0.062},{"x":7.5,"y":0.045},{"x":7.8,"y":0.075},{"x":8.0,"y":0.058},{"x":8.3,"y":0.038},{"x":8.5,"y":0.065},{"x":8.8,"y":0.068},{"x":9.0,"y":0.098},{"x":9.5,"y":0.05},{"x":9.7,"y":0.045},{"x":10.0,"y":0.055},{"x":10.2,"y":0.1},{"x":10.5,"y":0.06},{"x":11.0,"y":0.112},{"x":11.5,"y":0.12},{"x":11.8,"y":0.075},{"x":12.0,"y":0.12},{"x":12.5,"y":0.127},{"x":13.0,"y":0.11},{"x":13.5,"y":0.08},{"x":13.7,"y":0.09},{"x":14.0,"y":0.105},{"x":14.5,"y":0.088},{"x":14.8,"y":0.14},{"x":15.2,"y":0.138},{"x":15.5,"y":0.115},{"x":16,"y":0.128},{"x":16.2,"y":0.104},{"x":21,"y":0.12},{"x":22.5,"y":0.158},{"x":28.5,"y":0.128},{"x":31.5,"y":0.126}],
"p8":[{"x":-6,"y":-0.015},{"x":-4,"y":-0.007},{"x":-3,"y":-0.022},{"x":-2,"y":-0.008},{"x":-2,"y":-0.012},{"x":-2,"y":-0.016},{"x":-2,"y":-0.019},{"x":-2,"y":-0.025},{"x":-1,"y":-0.008},{"x":-1,"y":-0.011},{"x":-1,"y":-0.014},{"x":-1,"y":-0.017},{"x":-1,"y":-0.02},{"x":0,"y":-0.008},{"x":0,"y":-0.011},{"x":0,"y":-0.014},{"x":0,"y":-0.017},{"x":1,"y":-0.003},{"x":1,"y":-0.007},{"x":1,"y":-0.01},{"x":1,"y":-0.013},{"x":1,"y":-0.016},{"x":1,"y":-0.019},{"x":1,"y":-0.022},{"x":2,"y":-0.005},{"x":2,"y":-0.008},{"x":2,"y":-0.011},{"x":2,"y":-0.014},{"x":2,"y":-0.017},{"x":2,"y":-0.02},{"x":2,"y":-0.023},{"x":2,"y":-0.025},{"x":3,"y":-0.006},{"x":3,"y":-0.009},{"x":3,"y":-0.012},{"x":3,"y":-0.015},{"x":3,"y":-0.018},{"x":3,"y":-0.021},{"x":3,"y":-0.025},{"x":4,"y":-0.007},{"x":4,"y":-0.01},{"x":4,"y":-0.013},{"x":4,"y":-0.016},{"x":4,"y":-0.019},{"x":4,"y":-0.02},{"x":5,"y":0.0},{"x":5,"y":-0.003},{"x":5,"y":-0.006},{"x":5,"y":-0.009},{"x":5,"y":-0.012},{"x":5,"y":-0.015},{"x":6,"y":-0.001},{"x":6,"y":-0.004},{"x":6,"y":-0.007},{"x":6,"y":-0.01},{"x":6,"y":-0.013},{"x":7,"y":0.003},{"x":7,"y":0.006},{"x":7,"y":0.009},{"x":7,"y":0.012},{"x":7,"y":0.015},{"x":7,"y":0.018},{"x":7,"y":0.021},{"x":7,"y":0.023},{"x":8,"y":0.01},{"x":8,"y":0.013},{"x":8,"y":0.016},{"x":8,"y":0.019},{"x":8,"y":0.022},{"x":8,"y":0.025},{"x":8,"y":0.027},{"x":9,"y":0.02},{"x":9,"y":0.023},{"x":9,"y":0.026},{"x":9,"y":0.029},{"x":9,"y":0.032},{"x":9,"y":0.035},{"x":9,"y":0.038},{"x":9,"y":0.041},{"x":9,"y":0.046},{"x":10,"y":0.016},{"x":10,"y":0.019},{"x":10,"y":0.022},{"x":10,"y":0.025},{"x":10,"y":0.028},{"x":10,"y":0.031},{"x":10,"y":0.034},{"x":10,"y":0.037},{"x":10,"y":0.04},{"x":11,"y":0.022},{"x":11,"y":0.026},{"x":11,"y":0.03},{"x":11,"y":0.034},{"x":11,"y":0.038},{"x":11,"y":0.042},{"x":11,"y":0.046},{"x":12,"y":0.03},{"x":12,"y":0.034},{"x":12,"y":0.038},{"x":12,"y":0.042},{"x":12,"y":0.046},{"x":12,"y":0.05},{"x":12,"y":0.054},{"x":12,"y":0.058},{"x":12,"y":0.061},{"x":13,"y":0.034},{"x":13,"y":0.052},{"x":14,"y":0.027},{"x":14,"y":0.03},{"x":14,"y":0.036},{"x":14,"y":0.043},{"x":14,"y":0.05},{"x":14,"y":0.056},{"x":14,"y":0.06},{"x":15,"y":0.013},{"x":15,"y":0.038},{"x":15,"y":0.045},{"x":15,"y":0.058},{"x":17,"y":0.046},{"x":17,"y":0.065}],
"p9":[{"x":0.3,"y":-0.012},{"x":0.32,"y":-0.018},{"x":0.35,"y":-0.01},{"x":0.37,"y":-0.022},{"x":0.38,"y":-0.016},{"x":0.4,"y":-0.014},{"x":0.42,"y":-0.008},{"x":0.43,"y":-0.02},{"x":0.45,"y":-0.026},{"x":0.45,"y":-0.005},{"x":0.47,"y":-0.012},{"x":0.48,"y":-0.017},{"x":0.5,"y":-0.007},{"x":0.5,"y":-0.022},{"x":0.52,"y":-0.014},{"x":0.53,"y":-0.03},{"x":0.55,"y":-0.01},{"x":0.55,"y":-0.019},{"x":0.55,"y":-0.031},{"x":0.57,"y":-0.025},{"x":0.58,"y":-0.005},{"x":0.6,"y":-0.013},{"x":0.6,"y":-0.028},{"x":0.62,"y":-0.018},{"x":0.62,"y":-0.024},{"x":0.63,"y":-0.009},{"x":0.65,"y":-0.022},{"x":0.66,"y":-0.014},{"x":0.68,"y":-0.027},{"x":0.7,"y":-0.01},{"x":0.7,"y":-0.017},{"x":0.72,"y":-0.006},{"x":0.73,"y":-0.021},{"x":0.75,"y":-0.012},{"x":0.8,"y":-0.01},{"x":0.8,"y":-0.016},{"x":0.85,"y":-0.008},{"x":0.85,"y":-0.02},{"x":0.88,"y":-0.013},{"x":0.9,"y":-0.006},{"x":0.92,"y":-0.011},{"x":0.95,"y":-0.009},{"x":0.98,"y":-0.004},{"x":1.0,"y":-0.012},{"x":1.0,"y":-0.016},{"x":1.02,"y":-0.007},{"x":1.05,"y":-0.005},{"x":1.08,"y":-0.01},{"x":1.1,"y":-0.004},{"x":1.13,"y":-0.008},{"x":1.15,"y":-0.003},{"x":1.18,"y":-0.007},{"x":1.2,"y":-0.005},{"x":1.2,"y":-0.012},{"x":1.23,"y":-0.009},{"x":1.25,"y":-0.003},{"x":1.28,"y":-0.006},{"x":1.3,"y":-0.004},{"x":1.33,"y":-0.008},{"x":1.35,"y":-0.003},{"x":1.38,"y":-0.006},{"x":1.4,"y":-0.004},{"x":1.42,"y":-0.002},{"x":1.45,"y":0.001},{"x":1.48,"y":-0.003},{"x":1.5,"y":0.004},{"x":1.5,"y":-0.005},{"x":1.52,"y":0.0},{"x":1.55,"y":0.006},{"x":1.6,"y":0.002},{"x":1.6,"y":0.01},{"x":1.62,"y":0.005},{"x":1.65,"y":-0.001},{"x":1.7,"y":0.004},{"x":1.72,"y":0.008},{"x":1.75,"y":0.002},{"x":1.8,"y":0.005},{"x":1.85,"y":0.001},{"x":1.88,"y":0.007},{"x":1.9,"y":0.003},{"x":1.95,"y":0.006},{"x":2.0,"y":0.002},{"x":2.0,"y":0.008},{"x":2.05,"y":0.004},{"x":2.1,"y":0.007},{"x":2.12,"y":0.002},{"x":2.15,"y":0.009},{"x":2.2,"y":0.005},{"x":2.22,"y":0.011},{"x":2.25,"y":0.003},{"x":2.28,"y":0.008},{"x":2.3,"y":0.012},{"x":2.32,"y":0.006},{"x":2.35,"y":0.014},{"x":2.38,"y":0.009},{"x":2.4,"y":0.017},{"x":2.4,"y":0.003},{"x":2.42,"y":0.011},{"x":2.45,"y":0.02},{"x":2.48,"y":0.013},{"x":2.5,"y":0.008},{"x":2.5,"y":0.022},{"x":2.52,"y":0.016},{"x":2.55,"y":0.025},{"x":2.57,"y":0.012},{"x":2.6,"y":0.019},{"x":2.6,"y":0.005},{"x":2.62,"y":0.028},{"x":2.65,"y":0.015},{"x":2.67,"y":0.022},{"x":2.7,"y":0.03},{"x":2.7,"y":0.01},{"x":2.72,"y":0.018},{"x":2.75,"y":0.025},{"x":2.77,"y":0.034},{"x":2.8,"y":0.02},{"x":2.8,"y":0.012},{"x":2.82,"y":0.028},{"x":2.85,"y":0.036},{"x":2.87,"y":0.022},{"x":2.9,"y":0.03},{"x":2.92,"y":0.015},{"x":2.95,"y":0.025},{"x":2.97,"y":0.032},{"x":3.0,"y":0.02},{"x":3.05,"y":0.028},{"x":3.1,"y":0.026},{"x":3.15,"y":0.022},{"x":3.2,"y":0.018},{"x":3.3,"y":0.042},{"x":3.4,"y":0.054},{"x":3.45,"y":0.052},{"x":3.5,"y":0.044},{"x":3.6,"y":0.024},{"x":3.8,"y":0.035}],
"p10":[{"x":0.35,"y":-0.015},{"x":0.45,"y":-0.018},{"x":0.5,"y":-0.012},{"x":0.5,"y":-0.03},{"x":0.52,"y":-0.022},{"x":0.55,"y":-0.01},{"x":0.55,"y":-0.026},{"x":0.58,"y":-0.016},{"x":0.6,"y":-0.028},{"x":0.6,"y":-0.008},{"x":0.63,"y":-0.013},{"x":0.65,"y":-0.02},{"x":0.65,"y":-0.024},{"x":0.67,"y":-0.006},{"x":0.7,"y":-0.011},{"x":0.72,"y":-0.017},{"x":0.75,"y":-0.008},{"x":0.77,"y":-0.013},{"x":0.8,"y":-0.005},{"x":0.8,"y":-0.01},{"x":0.83,"y":-0.015},{"x":0.85,"y":-0.004},{"x":0.87,"y":-0.009},{"x":0.9,"y":-0.002},{"x":0.9,"y":-0.012},{"x":0.93,"y":-0.006},{"x":0.95,"y":0.0},{"x":0.97,"y":-0.005},{"x":1.0,"y":-0.008},{"x":1.0,"y":0.002},{"x":1.02,"y":-0.003},{"x":1.05,"y":0.004},{"x":1.07,"y":-0.002},{"x":1.1,"y":0.006},{"x":1.1,"y":0.0},{"x":1.12,"y":0.003},{"x":1.15,"y":0.008},{"x":1.17,"y":0.002},{"x":1.18,"y":0.012},{"x":1.2,"y":0.006},{"x":1.2,"y":0.016},{"x":1.22,"y":0.01},{"x":1.23,"y":0.022},{"x":1.25,"y":0.015},{"x":1.25,"y":0.03},{"x":1.27,"y":0.02},{"x":1.28,"y":0.038},{"x":1.3,"y":0.028},{"x":1.3,"y":0.045},{"x":1.32,"y":0.035},{"x":1.33,"y":0.055},{"x":1.35,"y":0.04},{"x":1.35,"y":0.062},{"x":1.37,"y":0.05},{"x":1.4,"y":0.068},{"x":1.4,"y":0.035},{"x":1.42,"y":0.072},{"x":1.45,"y":0.088},{"x":1.45,"y":0.07},{"x":1.48,"y":0.1},{"x":1.5,"y":0.178},{"x":1.5,"y":0.12},{"x":1.52,"y":0.16},{"x":1.53,"y":0.13},{"x":1.55,"y":0.165},{"x":1.55,"y":0.125},{"x":1.57,"y":0.14},{"x":1.58,"y":0.145},{"x":1.6,"y":0.12},{"x":1.62,"y":0.13},{"x":1.65,"y":0.097},{"x":1.7,"y":0.15},{"x":1.72,"y":0.12},{"x":1.85,"y":0.14},{"x":2.3,"y":0.112},{"x":2.55,"y":0.15},{"x":2.75,"y":0.152},{"x":2.9,"y":0.107},{"x":3.65,"y":0.142}],
"p11":[{"x":60,"y":0.067},{"x":70,"y":0.058},{"x":75,"y":0.054},{"x":80,"y":0.06},{"x":85,"y":0.072},{"x":88,"y":0.064},{"x":90,"y":0.075},{"x":92,"y":0.058},{"x":95,"y":0.07},{"x":95,"y":0.045},{"x":100,"y":0.042},{"x":100,"y":0.05},{"x":105,"y":0.038},{"x":110,"y":0.044},{"x":115,"y":0.035},{"x":120,"y":0.04},{"x":125,"y":0.033},{"x":130,"y":0.047},{"x":135,"y":0.03},{"x":140,"y":0.038},{"x":145,"y":0.026},{"x":150,"y":0.042},{"x":155,"y":0.032},{"x":160,"y":0.028},{"x":160,"y":0.045},{"x":165,"y":0.038},{"x":170,"y":0.022},{"x":175,"y":0.035},{"x":180,"y":0.03},{"x":185,"y":0.025},{"x":190,"y":0.04},{"x":195,"y":0.048},{"x":200,"y":0.035},{"x":200,"y":0.025},{"x":200,"y":0.045},{"x":205,"y":0.045},{"x":210,"y":0.03},{"x":210,"y":0.018},{"x":215,"y":0.038},{"x":220,"y":0.026},{"x":220,"y":0.044},{"x":225,"y":0.032},{"x":230,"y":0.02},{"x":230,"y":0.038},{"x":230,"y":0.042},{"x":235,"y":0.028},{"x":240,"y":0.015},{"x":240,"y":0.034},{"x":245,"y":0.024},{"x":250,"y":0.012},{"x":250,"y":0.02},{"x":255,"y":0.006},{"x":260,"y":0.014},{"x":260,"y":0.0},{"x":265,"y":0.008},{"x":270,"y":0.002},{"x":270,"y":0.012},{"x":275,"y":-0.004},{"x":280,"y":0.006},{"x":285,"y":0.0},{"x":290,"y":0.01},{"x":295,"y":-0.005},{"x":300,"y":0.004},{"x":305,"y":0.0},{"x":305,"y":0.01},{"x":310,"y":-0.006},{"x":315,"y":0.006},{"x":320,"y":0.0},{"x":325,"y":-0.008},{"x":330,"y":0.004},{"x":335,"y":-0.003},{"x":340,"y":0.002},{"x":345,"y":-0.01},{"x":350,"y":-0.002},{"x":350,"y":0.008},{"x":355,"y":0.005},{"x":360,"y":-0.006},{"x":365,"y":0.0},{"x":370,"y":-0.012},{"x":375,"y":-0.004},{"x":380,"y":0.002},{"x":385,"y":-0.008},{"x":390,"y":-0.014},{"x":395,"y":-0.002},{"x":400,"y":-0.01},{"x":405,"y":-0.005},{"x":410,"y":-0.016},{"x":415,"y":-0.008},{"x":420,"y":-0.012},{"x":420,"y":0.0},{"x":425,"y":-0.02},{"x":430,"y":-0.006},{"x":435,"y":-0.014},{"x":440,"y":-0.018},{"x":445,"y":-0.01},{"x":450,"y":-0.022},{"x":455,"y":-0.014},{"x":460,"y":-0.018},{"x":465,"y":-0.026},{"x":470,"y":-0.012},{"x":475,"y":-0.02},{"x":480,"y":-0.016},{"x":480,"y":-0.03},{"x":485,"y":-0.024},{"x":490,"y":-0.037},{"x":490,"y":-0.014},{"x":495,"y":-0.02},{"x":500,"y":-0.026},{"x":500,"y":-0.008},{"x":505,"y":-0.016},{"x":510,"y":-0.021},{"x":515,"y":-0.03},{"x":520,"y":-0.014},{"x":525,"y":-0.022},{"x":530,"y":-0.053},{"x":535,"y":-0.018},{"x":540,"y":-0.012},{"x":550,"y":-0.025},{"x":560,"y":-0.014},{"x":570,"y":-0.02},{"x":580,"y":-0.012},{"x":590,"y":-0.016},{"x":600,"y":-0.012},{"x":610,"y":-0.047},{"x":620,"y":-0.013},{"x":630,"y":-0.015},{"x":660,"y":-0.012},{"x":720,"y":-0.022},{"x":760,"y":-0.013},{"x":780,"y":-0.013},{"x":265,"y":0.004},{"x":285,"y":0.006},{"x":295,"y":0.002},{"x":315,"y":-0.002},{"x":335,"y":0.004},{"x":355,"y":-0.004},{"x":375,"y":0.002},{"x":395,"y":-0.008},{"x":415,"y":-0.014},{"x":435,"y":-0.008},{"x":455,"y":-0.02},{"x":475,"y":-0.015},{"x":495,"y":-0.012},{"x":515,"y":-0.02},{"x":225,"y":0.04},{"x":215,"y":0.03},{"x":185,"y":0.035},{"x":145,"y":0.04},{"x":110,"y":0.036},{"x":125,"y":0.042}],
"p12":[{"x":30,"y":0.0},{"x":80,"y":-0.011},{"x":120,"y":-0.005},{"x":130,"y":-0.013},{"x":140,"y":-0.004},{"x":150,"y":-0.008},{"x":160,"y":0.002},{"x":165,"y":-0.01},{"x":170,"y":-0.005},{"x":180,"y":-0.014},{"x":190,"y":-0.007},{"x":200,"y":-0.01},{"x":205,"y":-0.018},{"x":210,"y":-0.004},{"x":220,"y":-0.012},{"x":225,"y":-0.02},{"x":230,"y":-0.008},{"x":240,"y":-0.015},{"x":240,"y":-0.004},{"x":245,"y":-0.022},{"x":250,"y":-0.006},{"x":260,"y":-0.012},{"x":260,"y":-0.02},{"x":265,"y":-0.018},{"x":270,"y":-0.009},{"x":280,"y":-0.014},{"x":290,"y":-0.006},{"x":300,"y":-0.011},{"x":300,"y":-0.017},{"x":305,"y":-0.016},{"x":310,"y":-0.008},{"x":320,"y":-0.012},{"x":330,"y":-0.004},{"x":340,"y":-0.009},{"x":350,"y":-0.005},{"x":360,"y":-0.01},{"x":370,"y":-0.003},{"x":380,"y":-0.007},{"x":390,"y":-0.002},{"x":400,"y":-0.005},{"x":405,"y":0.002},{"x":410,"y":-0.003},{"x":420,"y":0.001},{"x":430,"y":-0.002},{"x":440,"y":0.003},{"x":450,"y":0.0},{"x":455,"y":-0.003},{"x":460,"y":0.002},{"x":470,"y":0.004},{"x":475,"y":0.0},{"x":480,"y":0.008},{"x":485,"y":0.003},{"x":490,"y":0.014},{"x":495,"y":0.006},{"x":500,"y":0.02},{"x":500,"y":0.01},{"x":505,"y":0.028},{"x":510,"y":0.016},{"x":515,"y":0.035},{"x":520,"y":0.022},{"x":525,"y":0.03},{"x":530,"y":0.04},{"x":535,"y":0.025},{"x":540,"y":0.032},{"x":545,"y":0.02},{"x":550,"y":0.038},{"x":560,"y":0.028},{"x":565,"y":0.045},{"x":570,"y":0.03},{"x":580,"y":0.036},{"x":590,"y":0.028},{"x":595,"y":0.05},{"x":600,"y":0.032},{"x":605,"y":0.048},{"x":610,"y":0.06},{"x":615,"y":0.04},{"x":620,"y":0.03},{"x":625,"y":0.045},{"x":630,"y":0.032},{"x":640,"y":0.058},{"x":645,"y":0.11},{"x":648,"y":0.105},{"x":650,"y":0.085},{"x":655,"y":0.075},{"x":660,"y":0.092},{"x":670,"y":0.048},{"x":690,"y":0.1},{"x":695,"y":0.132},{"x":700,"y":0.098},{"x":705,"y":0.14},{"x":710,"y":0.085},{"x":715,"y":0.09},{"x":720,"y":0.133},{"x":725,"y":0.13},{"x":730,"y":0.083},{"x":735,"y":0.072},{"x":750,"y":0.102},{"x":770,"y":0.12},{"x":175,"y":-0.01},{"x":195,"y":-0.012},{"x":215,"y":-0.009},{"x":235,"y":-0.012},{"x":255,"y":-0.014},{"x":275,"y":-0.011},{"x":295,"y":-0.013},{"x":315,"y":-0.011},{"x":335,"y":-0.008},{"x":355,"y":-0.007},{"x":375,"y":-0.005},{"x":395,"y":-0.004},{"x":415,"y":-0.001},{"x":435,"y":0.0},{"x":465,"y":-0.001},{"x":510,"y":0.03},{"x":530,"y":0.028},{"x":550,"y":0.025},{"x":575,"y":0.04},{"x":600,"y":0.038}],
"p13":[{"x":0.3,"y":0.05},{"x":0.4,"y":0.045},{"x":0.4,"y":0.068},{"x":0.42,"y":0.055},{"x":0.45,"y":0.065},{"x":0.47,"y":0.04},{"x":0.48,"y":0.058},{"x":0.5,"y":0.06},{"x":0.5,"y":0.05},{"x":0.52,"y":0.035},{"x":0.55,"y":0.045},{"x":0.55,"y":0.03},{"x":0.58,"y":0.04},{"x":0.6,"y":0.06},{"x":0.6,"y":0.025},{"x":0.62,"y":0.035},{"x":0.65,"y":0.02},{"x":0.65,"y":0.03},{"x":0.68,"y":0.025},{"x":0.7,"y":0.015},{"x":0.7,"y":0.035},{"x":0.72,"y":0.02},{"x":0.75,"y":0.01},{"x":0.75,"y":0.025},{"x":0.78,"y":0.015},{"x":0.8,"y":0.005},{"x":0.8,"y":0.018},{"x":0.82,"y":0.01},{"x":0.85,"y":0.002},{"x":0.85,"y":0.012},{"x":0.88,"y":0.004},{"x":0.9,"y":-0.002},{"x":0.9,"y":0.008},{"x":0.92,"y":0.0},{"x":0.95,"y":-0.005},{"x":0.95,"y":0.003},{"x":0.98,"y":-0.003},{"x":1.0,"y":-0.008},{"x":1.0,"y":0.0},{"x":1.05,"y":-0.006},{"x":1.05,"y":-0.022},{"x":1.1,"y":-0.01},{"x":1.1,"y":-0.003},{"x":1.15,"y":-0.008},{"x":1.2,"y":-0.012},{"x":1.2,"y":-0.005},{"x":1.25,"y":-0.009},{"x":1.25,"y":-0.02},{"x":1.3,"y":-0.014},{"x":1.3,"y":-0.006},{"x":1.35,"y":-0.01},{"x":1.4,"y":-0.004},{"x":1.45,"y":-0.012},{"x":1.5,"y":-0.008},{"x":1.55,"y":-0.013},{"x":1.6,"y":-0.006},{"x":1.7,"y":-0.01},{"x":1.8,"y":-0.012},{"x":1.9,"y":-0.008},{"x":2.0,"y":-0.011},{"x":2.1,"y":-0.009},{"x":2.2,"y":-0.013},{"x":2.4,"y":-0.01},{"x":2.6,"y":-0.012}],
"p14":[{"x":3.5,"y":-0.01},{"x":3.8,"y":-0.018},{"x":4.0,"y":-0.02},{"x":4.0,"y":-0.008},{"x":4.2,"y":-0.014},{"x":4.3,"y":-0.004},{"x":4.4,"y":-0.012},{"x":4.5,"y":-0.017},{"x":4.5,"y":-0.006},{"x":4.5,"y":-0.022},{"x":4.6,"y":-0.01},{"x":4.7,"y":-0.002},{"x":4.8,"y":-0.013},{"x":4.8,"y":-0.007},{"x":4.9,"y":0.0},{"x":5.0,"y":-0.009},{"x":5.0,"y":-0.003},{"x":5.1,"y":0.004},{"x":5.2,"y":-0.005},{"x":5.2,"y":0.008},{"x":5.3,"y":0.002},{"x":5.4,"y":0.012},{"x":5.4,"y":-0.002},{"x":5.5,"y":0.006},{"x":5.6,"y":0.015},{"x":5.6,"y":0.003},{"x":5.7,"y":0.01},{"x":5.8,"y":0.018},{"x":5.8,"y":0.006},{"x":5.9,"y":0.012},{"x":6.0,"y":0.02},{"x":6.0,"y":0.008},{"x":6.2,"y":0.015},{"x":6.3,"y":0.022},{"x":6.4,"y":0.01},{"x":6.5,"y":0.018},{"x":6.6,"y":0.025},{"x":6.8,"y":0.014},{"x":7.0,"y":0.02},{"x":7.0,"y":0.028},{"x":7.2,"y":0.016},{"x":7.4,"y":0.024},{"x":7.5,"y":0.012},{"x":7.7,"y":0.03},{"x":7.8,"y":0.02},{"x":8.0,"y":0.025},{"x":8.2,"y":0.016},{"x":8.4,"y":0.028},{"x":8.5,"y":0.022},{"x":8.8,"y":0.032},{"x":9.0,"y":0.018},{"x":9.0,"y":0.01},{"x":9.2,"y":0.026},{"x":9.5,"y":0.03},{"x":9.8,"y":0.022},{"x":10.0,"y":0.035},{"x":10.3,"y":0.028},{"x":10.5,"y":0.04},{"x":11,"y":0.032},{"x":11,"y":0.045},{"x":11.5,"y":0.025},{"x":12,"y":0.038},{"x":12.5,"y":0.03},{"x":13,"y":0.042},{"x":14,"y":0.035},{"x":15,"y":0.04},{"x":16,"y":0.05},{"x":17.5,"y":0.033}]
},
"concat":[
{"width":134,"height":111,"layer":[
{"data":{"name":"p1"},"mark":"circle","encoding":{"x":{"field":"x","type":"quantitative","scale":{"domain":[-5.3,21.2],"nice":false,"zero":false},"axis":{"tickCount":40,"labelOverlap":false,"values":[-5,0,5,10,15,20],"format":"d","title":"CVP_T4 (cmH2O)"}},"y":{"field":"y","type":"quantitative","scale":{"domain":[-0.06,0.263],"nice":false,"zero":false},"axis":{"tickCount":40,"labelOverlap":false,"values":[-0.05,0,0.05,0.1,0.15,0.2,0.25],"format":".2f","title":["SHAP value for","CVP_T4 (cmH2O)"]}}}},
{"data":{"values":[{"z":0}]},"mark":"rule","encoding":{"y":{"field":"z","type":"quantitative"}}}]},
{"width":134,"height":111,"layer":[
{"data":{"name":"p2"},"mark":"circle","encoding":{"x":{"field":"x","type":"quantitative","scale":{"domain":[59,155],"nice":false,"zero":false},"axis":{"tickCount":40,"labelOverlap":false,"values":[60,80,100,120,140],"format":"d","title":"Postoperative hemoglobin (g/L)"}},"y":{"field":"y","type":"quantitative","scale":{"domain":[-0.08,0.235],"nice":false,"zero":false},"axis":{"tickCount":40,"labelOverlap":false,"values":[-0.05,0,0.05,0.1,0.15,0.2],"format":".2f","title":["SHAP value for","Postoperative hemoglobin (g/L)"]}}}},
{"data":{"values":[{"z":0}]},"mark":"rule","encoding":{"y":{"field":"z","type":"quantitative"}}}]},
{"width":134,"height":111,"layer":[
{"data":{"name":"p3"},"mark":"circle","encoding":{"x":{"field":"x","type":"quantitative","scale":{"domain":[2.68,7.4],"nice":false,"zero":false},"axis":{"tickCount":40,"labelOverlap":false,"values":[3,4,5,6,7],"format":"d","title":"Postoperative serum potassium (mmol/L)"}},"y":{"field":"y","type":"quantitative","scale":{"domain":[-0.056,0.156],"nice":false,"zero":false},"axis":{"tickCount":40,"labelOverlap":false,"values":[-0.05,-0.025,0,0.025,0.05,0.075,0.1,0.125,0.15],"format":".3f","title":["SHAP value for","Postoperative serum potassium (mmol/L)"]}}}},
{"data":{"values":[{"z":0}]},"mark":"rule","encoding":{"y":{"field":"z","type":"quantitative"}}}]},
{"width":134,"height":111,"layer":[
{"data":{"name":"p4"},"mark":"circle","encoding":{"x":{"field":"x","type":"quantitative","scale":{"domain":[-1.5,84],"nice":false,"zero":false},"axis":{"tickCount":40,"labelOverlap":false,"values":[0,10,20,30,40,50,60,70,80],"format":"d","title":"CUF (mL/kg)"}},"y":{"field":"y","type":"quantitative","scale":{"domain":[-0.049,0.096],"nice":false,"zero":false},"axis":{"tickCount":40,"labelOverlap":false,"values":[-0.04,-0.02,0,0.02,0.04,0.06,0.08],"format":".2f","title":["SHAP value for","CUF (mL/kg)"]}}}},
{"data":{"values":[{"z":0}]},"mark":"rule","encoding":{"y":{"field":"z","type":"quantitative"}}}]},
{"width":134,"height":111,"layer":[
{"data":{"name":"p5"},"mark":"circle","encoding":{"x":{"field":"x","type":"quantitative","scale":{"domain":[90,890],"nice":false,"zero":false},"axis":{"tickCount":40,"labelOverlap":false,"values":[100,200,300,400,500,600,700,800],"format":"d","title":"Postoperative LDH (U/L)"}},"y":{"field":"y","type":"quantitative","scale":{"domain":[-0.033,0.138],"nice":false,"zero":false},"axis":{"tickCount":40,"labelOverlap":false,"values":[-0.02,0,0.02,0.04,0.06,0.08,0.1,0.12],"format":".2f","title":["SHAP value for","Postoperative LDH (U/L)"]}}}},
{"data":{"values":[{"z":0}]},"mark":"rule","encoding":{"y":{"field":"z","type":"quantitative"}}}]},
{"width":134,"height":111,"layer":[
{"data":{"name":"p6"},"mark":"circle","encoding":{"x":{"field":"x","type":"quantitative","scale":{"domain":[-1.7,55.5],"nice":false,"zero":false},"axis":{"tickCount":40,"labelOverlap":false,"values":[0,10,20,30,40,50],"format":"d","title":"Intraoperative urine output (mL/kg/hr)"}},"y":{"field":"y","type":"quantitative","scale":{"domain":[-0.06,0.28],"nice":false,"zero":false},"axis":{"tickCount":40,"labelOverlap":false,"values":[-0.05,0,0.05,0.1,0.15,0.2,0.25],"format":".2f","title":["SHAP value for","Intraoperative urine output (mL/kg/hr)"]}}}},
{"data":{"values":[{"z":0}]},"mark":"rule","encoding":{"y":{"field":"z","type":"quantitative"}}}]},
{"width":134,"height":111,"layer":[
{"data":{"name":"p7"},"mark":"circle","encoding":{"x":{"field":"x","type":"quantitative","scale":{"domain":[-0.7,33.7],"nice":false,"zero":false},"axis":{"tickCount":40,"labelOverlap":false,"values":[0,5,10,15,20,25,30],"format":"d","title":"Preoperative NLR"}},"y":{"field":"y","type":"quantitative","scale":{"domain":[-0.08,0.17],"nice":false,"zero":false},"axis":{"tickCount":40,"labelOverlap":false,"values":[-0.05,0,0.05,0.1,0.15],"format":".2f","title":["SHAP value for","Preoperative NLR"]}}}},
{"data":{"values":[{"z":0}]},"mark":"rule","encoding":{"y":{"field":"z","type":"quantitative"}}}]},
{"width":134,"height":111,"layer":[
{"data":{"name":"p8"},"mark":"circle","encoding":{"x":{"field":"x","type":"quantitative","scale":{"domain":[-7.2,18.2],"nice":false,"zero":false},"axis":{"tickCount":40,"labelOverlap":false,"values":[-5,0,5,10,15],"format":"d","title":"CVP_T3 (cmH2O)"}},"y":{"field":"y","type":"quantitative","scale":{"domain":[-0.031,0.071],"nice":false,"zero":false},"axis":{"tickCount":40,"labelOverlap":false,"values":[-0.02,0,0.02,0.04,0.06],"format":".2f","title":["SHAP value for","CVP_T3 (cmH2O)"]}}}},
{"data":{"values":[{"z":0}]},"mark":"rule","encoding":{"y":{"field":"z","type":"quantitative"}}}]},
{"width":134,"height":111,"layer":[
{"data":{"name":"p9"},"mark":"circle","encoding":{"x":{"field":"x","type":"quantitative","scale":{"domain":[0.12,4.04],"nice":false,"zero":false},"axis":{"tickCount":40,"labelOverlap":false,"values":[0.5,1,1.5,2,2.5,3,3.5,4],"format":".1f","title":"Perfusion flow_T3 (L/min/m2)"}},"y":{"field":"y","type":"quantitative","scale":{"domain":[-0.035,0.059],"nice":false,"zero":false},"axis":{"tickCount":40,"labelOverlap":false,"values":[-0.02,0,0.02,0.04],"format":".2f","title":["SHAP value for","Perfusion flow_T3 (L/min/m2)"]}}}},
{"data":{"values":[{"z":0}]},"mark":"rule","encoding":{"y":{"field":"z","type":"quantitative"}}}]},
{"width":134,"height":111,"layer":[
{"data":{"name":"p10"},"mark":"circle","encoding":{"x":{"field":"x","type":"quantitative","scale":{"domain":[0.16,3.7],"nice":false,"zero":false},"axis":{"tickCount":40,"labelOverlap":false,"values":[0.5,1,1.5,2,2.5,3,3.5],"format":".1f","title":"Preoperative Scr (mg/dL)"}},"y":{"field":"y","type":"quantitative","scale":{"domain":[-0.038,0.187],"nice":false,"zero":false},"axis":{"tickCount":40,"labelOverlap":false,"values":[0,0.05,0.1,0.15],"format":".2f","title":["SHAP value for","Preoperative Scr (mg/dL)"]}}}},
{"data":{"values":[{"z":0}]},"mark":"rule","encoding":{"y":{"field":"z","type":"quantitative"}}}]},
{"width":134,"height":111,"layer":[
{"data":{"name":"p11"},"mark":"circle","encoding":{"x":{"field":"x","type":"quantitative","scale":{"domain":[16,815],"nice":false,"zero":false},"axis":{"tickCount":40,"labelOverlap":false,"values":[100,200,300,400,500,600,700,800],"format":"d","title":"Intubated PaO2/FiO2 ratio"}},"y":{"field":"y","type":"quantitative","scale":{"domain":[-0.059,0.088],"nice":false,"zero":false},"axis":{"tickCount":40,"labelOverlap":false,"values":[-0.04,-0.02,0,0.02,0.04,0.06,0.08],"format":".2f","title":["SHAP value for","Intubated PaO2/FiO2 ratio"]}}}},
{"data":{"values":[{"z":0}]},"mark":"rule","encoding":{"y":{"field":"z","type":"quantitative"}}}]},
{"width":134,"height":111,"layer":[
{"data":{"name":"p12"},"mark":"circle","encoding":{"x":{"field":"x","type":"quantitative","scale":{"domain":[-8,810],"nice":false,"zero":false},"axis":{"tickCount":40,"labelOverlap":false,"values":[0,100,200,300,400,500,600,700,800],"format":"d","title":"Preoperative UA (umol/L)"}},"y":{"field":"y","type":"quantitative","scale":{"domain":[-0.031,0.151],"nice":false,"zero":false},"axis":{"tickCount":40,"labelOverlap":false,"values":[-0.02,0,0.02,0.04,0.06,0.08,0.1,0.12,0.14],"format":".2f","title":["SHAP value for","Preoperative UA (umol/L)"]}}}},
{"data":{"values":[{"z":0}]},"mark":"rule","encoding":{"y":{"field":"z","type":"quantitative"}}}]},
{"width":134,"height":111,"layer":[
{"data":{"name":"p13"},"mark":"circle","encoding":{"x":{"field":"x","type":"quantitative","scale":{"domain":[-0.15,2.75],"nice":false,"zero":false},"axis":{"tickCount":40,"labelOverlap":false,"values":[0,0.5,1,1.5,2,2.5],"format":".1f","title":"Preoperative HDL (mmol/L)"}},"y":{"field":"y","type":"quantitative","scale":{"domain":[-0.027,0.072],"nice":false,"zero":false},"axis":{"tickCount":40,"labelOverlap":false,"values":[-0.02,0,0.02,0.04,0.06],"format":".2f","title":["SHAP value for","Preoperative HDL (mmol/L)"]}}}},
{"data":{"values":[{"z":0}]},"mark":"rule","encoding":{"y":{"field":"z","type":"quantitative"}}}]},
{"width":134,"height":111,"layer":[
{"data":{"name":"p14"},"mark":"circle","encoding":{"x":{"field":"x","type":"quantitative","scale":{"domain":[1.4,18.6],"nice":false,"zero":false},"axis":{"tickCount":40,"labelOverlap":false,"values":[2,4,6,8,10,12,14,16,18],"format":"d","title":"Preoperative blood glucose (mmol/L)"}},"y":{"field":"y","type":"quantitative","scale":{"domain":[-0.029,0.053],"nice":false,"zero":false},"axis":{"tickCount":40,"labelOverlap":false,"values":[-0.02,-0.01,0,0.01,0.02,0.03,0.04,0.05],"format":".2f","title":["SHAP value for","Preoperative blood glucose (mmol/L)"]}}}},
{"data":{"values":[{"z":0}]},"mark":"rule","encoding":{"y":{"field":"z","type":"quantitative"}}}]}
]
}
